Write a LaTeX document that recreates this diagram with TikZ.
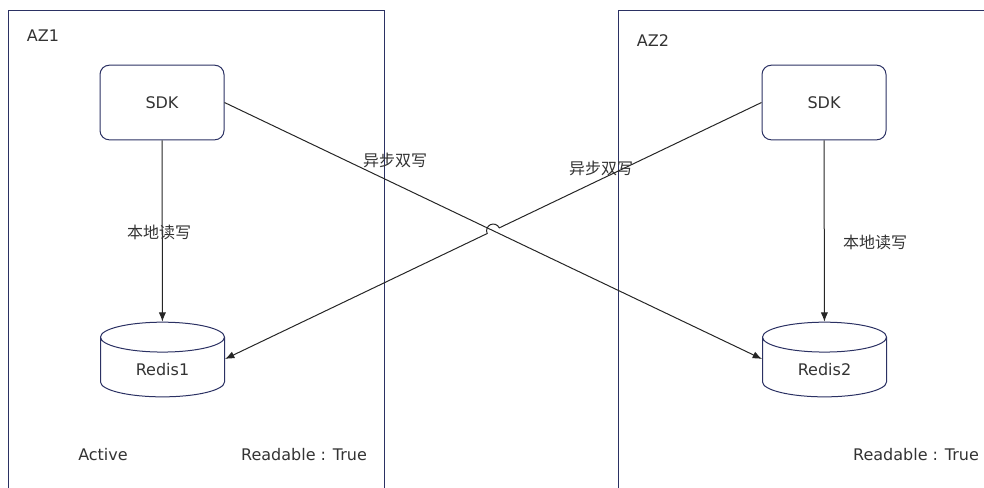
\documentclass[tikz,border=0pt]{standalone}
\usepackage{fontspec}
\setmainfont{DejaVu Sans}
\newfontfamily\cjk{Noto Sans CJK SC}
\usetikzlibrary{shapes.geometric,arrows.meta,calc}
\definecolor{frame}{HTML}{2B3163}
\definecolor{ink}{HTML}{333333}

\begin{document}
\begin{tikzpicture}[x=0.75pt, y=-0.75pt, line width=0.75pt, every node/.style={font=\fontsize{12}{14}\selectfont, text=ink},
	sdkbox/.style={draw=frame, rounded corners=7pt, minimum width=93pt, minimum height=56pt},
	db/.style={draw=frame, cylinder, shape border rotate=90, aspect=0.48, minimum width=93pt, minimum height=56pt},
	link/.style={black!85, -{Latex[length=7pt, width=5.5pt]}},
	cn/.style={font=\cjk\fontsize{12}{14}\selectfont}]
	\useasboundingbox (0,0) rectangle (984,487);
	\draw[frame] (8,490) -- (8,10) -- (384,10) -- (384,490);
	\draw[frame] (618,490) -- (618,10) -- (990,10);
	\node (az1) at (43,36) {AZ1};
	\node (az2) at (653,41) {AZ2};
	\node[sdkbox] (sdka) at (162,102.5) {SDK};
	\node[sdkbox] (sdkb) at (824,102.5) {SDK};
	\node[db] (redisa) at (162.5,370) {Redis1};
	\node[db] (redisb) at (824.5,370) {Redis2};
	\coordinate (ina) at ($(redisa.east)+(0,-11)$);
	\coordinate (inb) at ($(redisb.west)+(0,-11)$);
	\draw[link] (sdka) -- (redisa);
	\draw[link] (sdkb) -- (redisb);
	\node[cn] (locala) at (159,232.5) {本地读写};
	\node[cn] (localb) at (875,242) {本地读写};
	\draw[link] (sdka.east) -- (inb);
	\coordinate (cross) at (intersection of sdka.east--inb and sdkb.west--ina);
	\draw[link] (sdkb.west) -- ($(cross)!5pt!(sdkb.west)$) arc[start angle=25, end angle=205, radius=5pt] -- (ina);
	\node[cn] (synca) at (395,160) {异步双写};
	\node[cn] (syncb) at (601,168) {异步双写};
	\node (active) at (103,455) {Active};
	\node (reada) at (304,455) {Readable : True};
	\node (readb) at (916,455) {Readable : True};
\end{tikzpicture}
\end{document}
